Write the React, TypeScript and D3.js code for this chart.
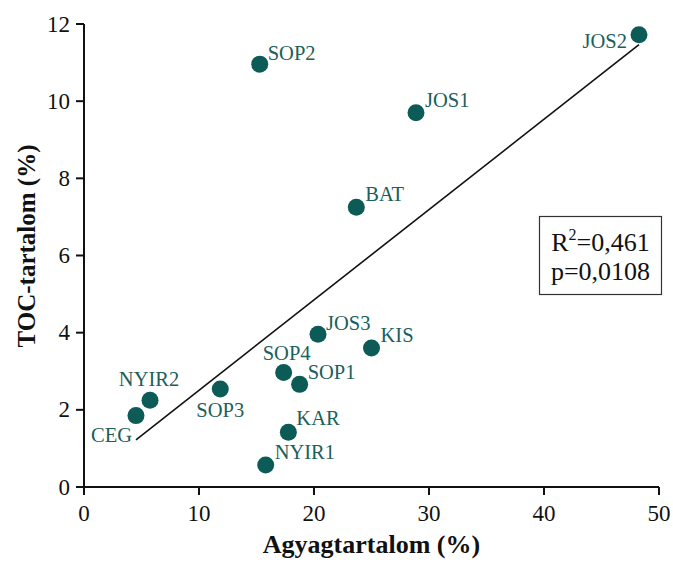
import React from "react";
import * as d3 from "d3";

const samples = ["SOP2", "JOS2", "JOS1", "BAT", "CEG", "NYIR2", "SOP3", "SOP4", "SOP1", "JOS3", "KAR", "NYIR1", "KIS"];
const clay = [15.28, 48.26, 28.87, 23.68, 4.52, 5.74, 11.85, 17.36, 18.75, 20.35, 17.77, 15.8, 25.0];
const toc = [10.96, 11.72, 9.7, 7.25, 1.85, 2.25, 2.54, 2.97, 2.66, 3.96, 1.42, 0.57, 3.6];
const xTicks = [0, 10, 20, 30, 40, 50];
const yTicks = [0, 2, 4, 6, 8, 10, 12];
const statR2 = "0,461";
const statP = "0,0108";

// label placement (offsets relative to dot), anchor
const labelPos: Record<string, [number, number, string]> = {
  SOP2: [8, -4, "start"],
  JOS2: [-12, 13, "end"],
  JOS1: [9, -6, "start"],
  BAT: [9, -6, "start"],
  CEG: [-4, 26, "end"],
  NYIR2: [-1, -14, "middle"],
  SOP3: [0, 28, "middle"],
  SOP4: [3, -12, "middle"],
  SOP1: [8, -5, "start"],
  JOS3: [8, -4, "start"],
  KAR: [8, -7, "start"],
  NYIR1: [9, -6, "start"],
  KIS: [9, -6, "start"],
};

const W = 673, H = 567;
const M = { left: 84, right: 659, top: 24, bottom: 487 };
const dotColor = "#0c5b56";
const labelColor = "#1b605b";
const FONT = "'Liberation Serif', 'Times New Roman', serif";

export default function App() {
  const x = d3.scaleLinear().domain([0, 50]).range([M.left, M.right]);
  const y = d3.scaleLinear().domain([0, 12]).range([M.bottom, M.top]);

  const mx = d3.mean(clay)!;
  const my = d3.mean(toc)!;
  let sxy = 0, sxx = 0;
  clay.forEach((v, i) => { sxy += (v - mx) * (toc[i] - my); sxx += (v - mx) ** 2; });
  const slope = sxy / sxx;
  const intercept = my - slope * mx;
  const [x0, x1] = d3.extent(clay) as [number, number];
  const line = d3.line<number>().x((d) => x(d)).y((d) => y(intercept + slope * d));

  return (
    <svg width={W} height={H} style={{ position: "absolute", left: 0, top: 0, background: "#fff" }} fontFamily={FONT}>
      <rect width={W} height={H} fill="#fff" />
      {/* axes */}
      <line x1={M.left} x2={M.left} y1={M.top} y2={M.bottom} stroke="#111" strokeWidth={2} />
      <line x1={M.left} x2={M.right} y1={M.bottom} y2={M.bottom} stroke="#111" strokeWidth={2} />
      {yTicks.map((t) => (
        <g key={"y" + t}>
          <line x1={M.left - 8} x2={M.left} y1={y(t)} y2={y(t)} stroke="#111" strokeWidth={2} />
          <text x={M.left - 14} y={y(t)} textAnchor="end" dominantBaseline="central" fontSize={23} fill="#111">{t}</text>
        </g>
      ))}
      {xTicks.map((t) => (
        <g key={"x" + t}>
          <line x1={x(t)} x2={x(t)} y1={M.bottom} y2={M.bottom + 8} stroke="#111" strokeWidth={2} />
          <text x={x(t)} y={521} textAnchor="middle" fontSize={23} fill="#111">{t}</text>
        </g>
      ))}
      <text x={(M.left + M.right) / 2} y={553} textAnchor="middle" fontSize={26} fontWeight="bold" fill="#111">Agyagtartalom (%)</text>
      <text transform={`translate(35, ${246}) rotate(-90)`} textAnchor="middle" fontSize={25} fontWeight="bold" fill="#111">TOC-tartalom (%)</text>
      {/* regression line */}
      <path d={line([x0, x1]) || ""} stroke="#111" strokeWidth={1.6} fill="none" />
      {/* points */}
      {samples.map((s, i) => {
        const [dx, dy, anchor] = labelPos[s];
        return (
          <g key={s}>
            <circle cx={x(clay[i])} cy={y(toc[i])} r={8.5} fill={dotColor} />
            <text x={x(clay[i]) + dx} y={y(toc[i]) + dy} textAnchor={anchor as any} fontSize={20.5} fill={labelColor}>{s}</text>
          </g>
        );
      })}
      {/* stats box */}
      <rect x={539.5} y={216.5} width={122} height={78} fill="#fff" stroke="#333" strokeWidth={1.2} />
      <text x={600.5} y={251} textAnchor="middle" fontSize={26} fill="#111">
        R<tspan fontSize={16} dy={-11}>2</tspan><tspan dy={11}>={statR2}</tspan>
      </text>
      <text x={600.5} y={280} textAnchor="middle" fontSize={26} fill="#111">p={statP}</text>
    </svg>
  );
}
